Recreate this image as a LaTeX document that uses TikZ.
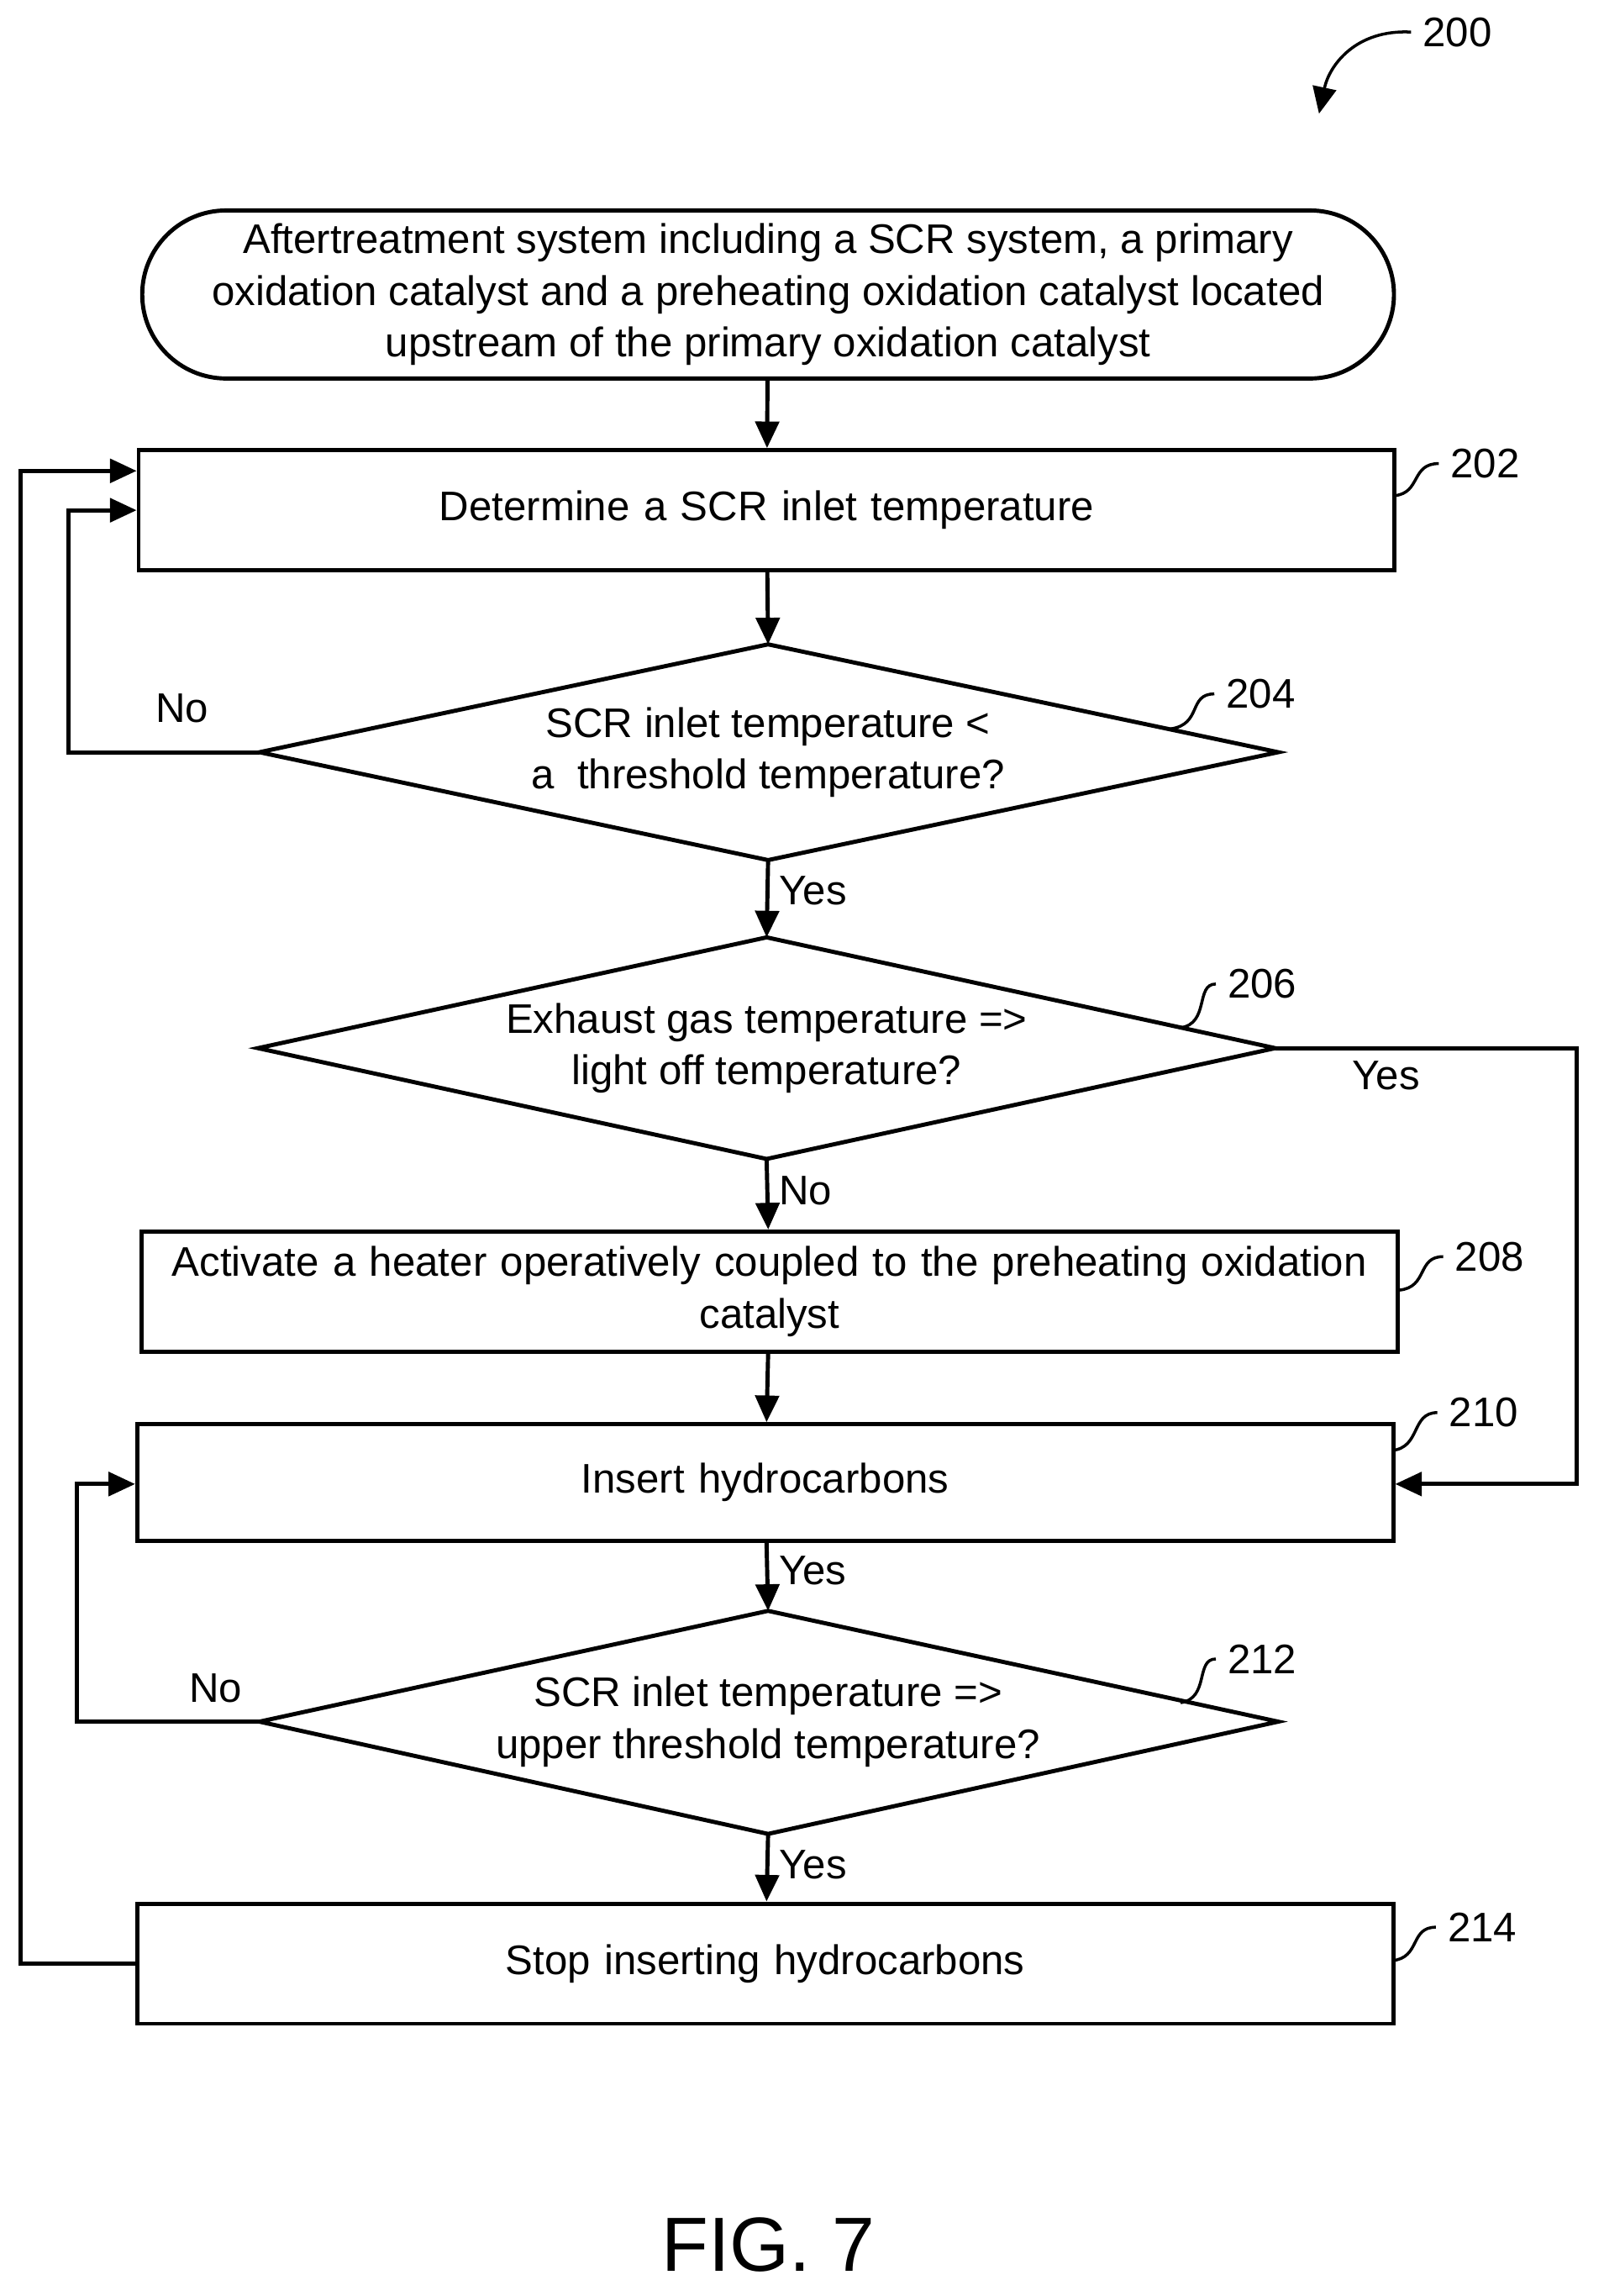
\documentclass[tikz,border=0pt]{standalone}
\usepackage{fontspec}
\setmainfont{Liberation Sans}
\usetikzlibrary{arrows.meta}

\begin{document}
\begin{tikzpicture}[x = 0.01735cm, y = -0.01735cm,
		line width = 1.4pt,
		font = \fontsize{14}{17.5}\selectfont,
		>={Triangle[length = 9pt, width = 8pt]},
		box/.style = {draw, rectangle, minimum width = 14.95cm, minimum height = 1.43cm, align = center, text width = 14.5cm},
		lbl/.style = {font = \fontsize{14}{16}\selectfont}]
		\useasboundingbox (0,0) rectangle (1100,1575);
		
		% boxes
		\node (start) [draw, rounded corners = 1cm, minimum width = 14.9cm, minimum height = 2cm, align = center] at (527,202)
			{Aftertreatment system including a SCR system, a primary\\ oxidation catalyst and a preheating oxidation catalyst located\\ upstream of the primary oxidation catalyst};
		\node (s202) [box] at (526,350) {Determine a SCR inlet temperature};
		\node (s208) [box] at (528,886) {Activate a heater operatively coupled to the preheating oxidation\\ catalyst};
		\node (s210) [box, minimum height = 1.39cm] at (525,1017) {Insert hydrocarbons};
		\node (s214) [box] at (525,1347) {Stop inserting hydrocarbons};
		
		% decisions
		\node (d204) [align = center] at (527,516) {SCR inlet temperature <\\ a\ \ threshold temperature?};
		\node (d206) [align = center] at (526,719) {Exhaust gas temperature =>\\ light off temperature?};
		\node (d212) [align = center] at (527,1181) {SCR inlet temperature =>\\ upper threshold temperature?};
		\coordinate (d204 top) at (527,442);   \coordinate (d204 bot) at (527,590);
		\coordinate (d204 l) at (178,516);     \coordinate (d204 r) at (877,516);
		\coordinate (d206 top) at (526,643);   \coordinate (d206 bot) at (526,795);
		\coordinate (d206 l) at (177,719);     \coordinate (d206 r) at (875,719);
		\coordinate (d212 top) at (527,1105);  \coordinate (d212 bot) at (527,1258);
		\coordinate (d212 l) at (178,1181);    \coordinate (d212 r) at (877,1181);
		\draw (d204 top) -- (d204 r) -- (d204 bot) -- (d204 l) -- cycle;
		\draw (d206 top) -- (d206 r) -- (d206 bot) -- (d206 l) -- cycle;
		\draw (d212 top) -- (d212 l) -- (d212 bot) -- (d212 r) -- cycle;
		
		% main flow
		\draw [->] (start) -- (s202);
		\draw [->] (s202) -- (d204 top);
		\draw [->] (d204 bot) -- (d206 top) node [pos = 0.4, right] {Yes};
		\draw [->] (d206 bot) -- (s208) node [pos = 0.45, right] {No};
		\draw [->] (s208) -- (s210);
		\draw [->] (s210) -- (d212 top) node [pos = 0.4, right] {Yes};
		\draw [->] (d212 bot) -- (s214) node [pos = 0.45, right] {Yes};
		
		% loops
		\draw [->] (d204 l) -| (47,350) -- (s202.west |- 0,350);
		\node at (125,486) {No};
		\draw [->] (s214.west) -| (14,323) -- (s202.west |- 0,323);
		\draw [->] (d206 r) -| (1082,1018) -- (s210.east |- 0,1018);
		\node at (951,738) {Yes};
		\draw [->] (d212 l) -| (53,1018) -- (s210.west |- 0,1018);
		\node at (148,1158) {No};
		
		% reference numerals
		\node (n202) [lbl] at (1019,318) {202};
		\draw [line width = 1pt] (957,340) .. controls (975,338) and (968,318) .. (n202.west);
		\node (n204) [lbl] at (865,476) {204};
		\draw [line width = 1pt] (803,500) .. controls (825,497) and (815,476) .. (n204.west);
		\node (n206) [lbl] at (866,675) {206};
		\draw [line width = 1pt] (810,705) .. controls (830,702) and (820,675) .. (n206.west);
		\node (n208) [lbl] at (1022,862) {208};
		\draw [line width = 1pt] (960,885) .. controls (980,883) and (972,862) .. (n208.west);
		\node (n210) [lbl] at (1018,969) {210};
		\draw [line width = 1pt] (955,995) .. controls (975,993) and (968,969) .. (n210.west);
		\node (n212) [lbl] at (866,1138) {212};
		\draw [line width = 1pt] (810,1168) .. controls (830,1165) and (820,1138) .. (n212.west);
		\node (n214) [lbl] at (1017,1322) {214};
		\draw [line width = 1pt] (955,1345) .. controls (975,1343) and (967,1322) .. (n214.west);
		
		\node (n200) [lbl] at (1000,22) {200};
		\draw [->, line width = 1pt] (n200.west) .. controls (930,20) and (912,45) .. (905,78);
		
		\node (fig) [font = \fontsize{26}{30}\selectfont] at (527,1540) {FIG. 7};
	\end{tikzpicture}
\end{document}
